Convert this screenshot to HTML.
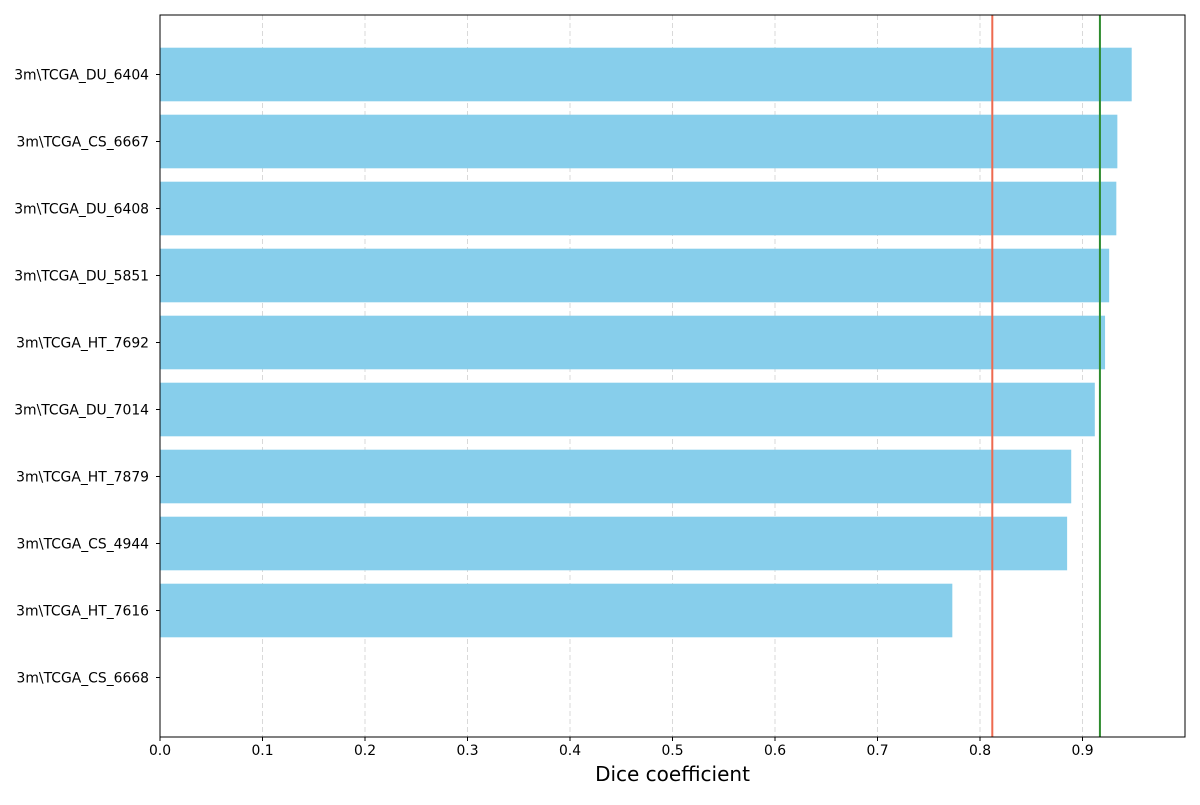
<!DOCTYPE html>
<html><head><meta charset="utf-8"><style>
body{margin:0;background:#fff;}
svg text{font-family:"DejaVu Sans","Liberation Sans",sans-serif;fill:#000;}
</style></head><body>
<svg id="chart" width="1200" height="800" xmlns="http://www.w3.org/2000/svg"></svg>
<script>
const categories=["3m\\TCGA_DU_6404","3m\\TCGA_CS_6667","3m\\TCGA_DU_6408","3m\\TCGA_DU_5851","3m\\TCGA_HT_7692","3m\\TCGA_DU_7014","3m\\TCGA_HT_7879","3m\\TCGA_CS_4944","3m\\TCGA_HT_7616","3m\\TCGA_CS_6668"];
const values=[0.948,0.934,0.933,0.926,0.922,0.912,0.889,0.885,0.773,0.0];
const xTicks=[0,0.1,0.2,0.3,0.4,0.5,0.6,0.7,0.8,0.9];
const refLines=[0.812,0.917];
const refColors=["#ee6a4f","#2e8b2e"];

const NS="http://www.w3.org/2000/svg";
const svg=document.getElementById('chart');
const L=160,R=1185,T=15,B=737,XMAX=1.0;
const xs=v=>L+(v/XMAX)*(R-L);
const step=67,first=74.5;
const ys=i=>first+i*step;
function mk(tag,attrs,parent){const e=document.createElementNS(NS,tag);for(const k in attrs)e.setAttribute(k,attrs[k]);(parent||svg).appendChild(e);return e;}

xTicks.forEach(t=>{
  const g=mk('line',{x1:xs(t),x2:xs(t),y1:T,y2:B,stroke:'#d9d9d9','stroke-dasharray':'5,3','stroke-width':1});
  
  
});
values.forEach((v,i)=>{
  const r=mk('rect',{x:L,y:ys(i)-26.8,width:xs(v)-L,height:53.6,fill:'#87ceeb'});
  
  
  const t=mk('text',{x:L-11,y:ys(i)+5,'text-anchor':'end','font-size':13.9});
  t.textContent=categories[i];
  
  
  const tk=mk('line',{x1:L-4,x2:L,y1:ys(i),y2:ys(i),stroke:'#000'});
  
  
});
refLines.forEach((v,i)=>{
  const l=mk('line',{x1:xs(v),x2:xs(v),y1:T,y2:B,stroke:refColors[i],'stroke-width':2});
  
  
});
xTicks.forEach(t=>{
  const tk=mk('line',{x1:xs(t),x2:xs(t),y1:B,y2:B+4,stroke:'#000'});
  
  
  const tx=mk('text',{x:xs(t),y:B+18,'text-anchor':'middle','font-size':13.9});
  tx.textContent=t.toFixed(1);
  
  
});
const f=mk('rect',{x:L,y:T,width:R-L,height:B-T,fill:'none',stroke:'#000','stroke-width':1});


const xl=mk('text',{x:(L+R)/2,y:781,'text-anchor':'middle','font-size':20});
xl.textContent='Dice coefficient';


</script>
</body></html>
